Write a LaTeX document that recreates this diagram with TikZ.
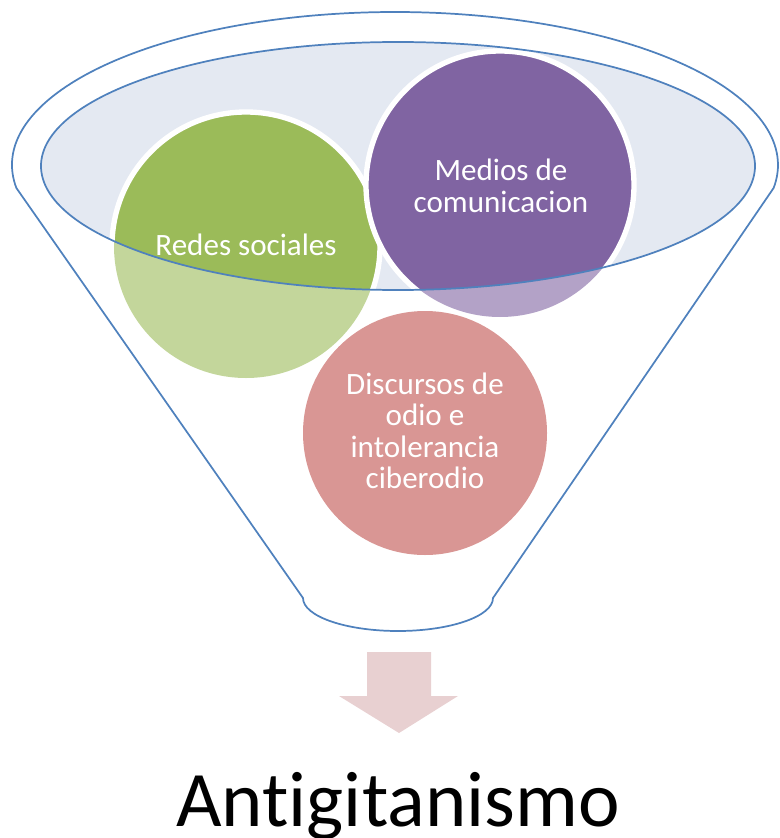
\documentclass[tikz,border=0pt]{standalone}
\usepackage{fontspec}
\setmainfont{Carlito}[Ligatures=NoCommon]
\definecolor{funnelblue}{HTML}{4F81BD}
\definecolor{ellfill}{HTML}{E4E9F2}
\definecolor{cgreen}{HTML}{9BBB59}
\definecolor{cgreenl}{HTML}{C3D69B}
\definecolor{cpurple}{HTML}{8064A2}
\definecolor{cpurplel}{HTML}{B3A2C7}
\definecolor{cpinkl}{HTML}{D99694}
\definecolor{arrowpink}{HTML}{E8D0D1}
\tikzset{
  funnelline/.style={draw=funnelblue, line width=1.3pt, line join=round},
  circtext/.style={text=white, align=center, inner sep=0pt, font=\fontsize{23.3}{23.6}\selectfont},
  ringline/.style={draw=white, line width=4pt}
}
\begin{document}
\begin{tikzpicture}[x=0.75pt,y=-0.75pt]
\useasboundingbox (0,0) rectangle (779,838);
% outer funnel outline
\draw[funnelline] (395,165) ++(171.35:383 and 153) coordinate (oL)
  arc[start angle=171.35, end angle=368.65, x radius=383, y radius=153] coordinate (oR)
  -- (493,598) coordinate (bR)
  arc[start angle=0, end angle=180, x radius=95, y radius=33] coordinate (bL)
  -- cycle;
% inner ellipse fill
\fill[ellfill] (398,166) ellipse [x radius=357, y radius=124];
% light (outside) circles
\fill[cgreenl] (246,246) circle[radius=132];
\fill[cpurplel] (500,185) circle[radius=132];
\fill[cpinkl] (425,433) circle[radius=122];
% full colour parts inside the ellipse
\begin{scope}
  \clip (398,166) ellipse [x radius=357, y radius=124];
  \filldraw[fill=cgreen, ringline] (246,246) circle[radius=134];
  \filldraw[fill=cpurple, ringline] (500,185) circle[radius=134];
\end{scope}
% inner ellipse outline
\draw[funnelline] (398,166) ellipse [x radius=357, y radius=124];
% texts
\node[circtext, anchor=base] (redes) at (246,255) {Redes sociales};
\node[circtext] (medios) at (501,186) {Medios de\\comunicacion};
\node[circtext] (discursos) at (425,431) {Discursos de\\odio e\\intolerancia\\ciberodio};
% arrow
\fill[arrowpink] (367,652) -- (431,652) -- (431,696) -- (458,696) -- (399,733) -- (339,696) -- (367,696) -- cycle;
\node[anchor=base, inner sep=0pt, font=\fontsize{59}{60}\selectfont] (anti) at (398,826) {Antigitanismo};
\end{tikzpicture}
\end{document}
